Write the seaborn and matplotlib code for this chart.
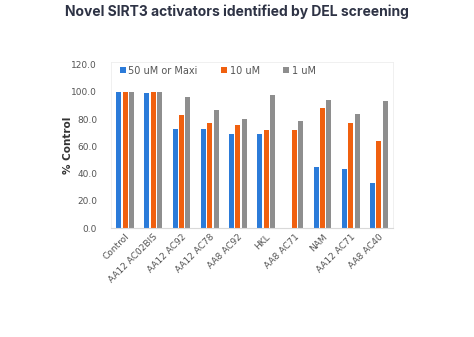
import numpy as np
import pandas as pd
import matplotlib
matplotlib.use("Agg")
import matplotlib.pyplot as plt
import seaborn as sns

categories = ["Control", "AA12 AC02BIS", "AA12 AC92", "AA12 AC78", "AA8 AC92",
              "HKL", "AA8 AC71", "NAM", "AA12 AC71", "AA8 AC40"]
series_names = ["50 uM or Maxi", "10 uM", "1 uM"]
vals_50 = [100, 99, 73, 73, 69, 69, 0, 45, 43, 33]
vals_10 = [100, 100, 83, 77, 76, 72, 72, 88, 77, 64]
vals_1 = [100, 100, 96, 87, 80, 98, 79, 94, 84, 93]
yticks = [0, 20, 40, 60, 80, 100, 120]

df = pd.DataFrame({
    "cat": categories * 3,
    "series": [series_names[0]] * 10 + [series_names[1]] * 10 + [series_names[2]] * 10,
    "val": vals_50 + vals_10 + vals_1,
})

colors = ["#2B7BD9", "#F0600F", "#8E8E8E"]

sns.set_style("white")
plt.rcParams["font.family"] = ["DejaVu Sans"]

fig = plt.figure(figsize=(4.74, 3.37), dpi=100)
ax = fig.add_axes([111 / 474, 1 - 228 / 337, (393 - 111) / 474, (228 - 62) / 337])

sns.barplot(data=df, x="cat", y="val", hue="series", palette=colors,
            width=0.68, gap=0.0, ax=ax, errorbar=None, saturation=1,
            linewidth=0, edgecolor="none")
# small gaps between bars within a group
for p in ax.patches:
    w = p.get_width()
    p.set_x(p.get_x() + w * 0.1)
    p.set_width(w * 0.8)
    p.set_linewidth(0)

ax.set_ylim(0, 122)
ax.set_xlim(-0.5, 9.5)
ax.set_yticks(yticks)
ax.set_yticklabels([f"{v:.1f}" for v in yticks], fontsize=6.5, color="#555555")
ax.set_xticks(range(len(categories)))
ax.set_xticklabels(categories, rotation=45, ha="right", rotation_mode="anchor",
                   fontsize=6.5, color="#555555")
ax.tick_params(axis="y", length=0, pad=10)
ax.tick_params(axis="x", length=0, pad=3)
ax.set_xlabel("")
ax.set_ylabel("% Control", fontsize=7.5, fontweight="bold", color="#333333")
ax.yaxis.set_label_coords(-0.135, 0.5)

for s in ["top", "right", "left"]:
    ax.spines[s].set_color("#EEEEEE")
    ax.spines[s].set_linewidth(0.6)
ax.spines["bottom"].set_color("#D9D9D9")
ax.spines["bottom"].set_linewidth(0.8)

leg = ax.legend(loc="upper left", bbox_to_anchor=(0.0, 1.03), ncol=3, frameon=False,
                fontsize=7, handlelength=0.6, handleheight=0.6, handletextpad=0.3,
                columnspacing=2.4)
for t in leg.get_texts():
    t.set_color("#555555")

fig.text(0.5, 1 - 12 / 337, "Novel SIRT3 activators identified by DEL screening",
         ha="center", va="center", fontsize=10, fontweight="bold", color="#2E3345",
         family=["Inter", "DejaVu Sans"])

fig.savefig("out.png", dpi=100)
